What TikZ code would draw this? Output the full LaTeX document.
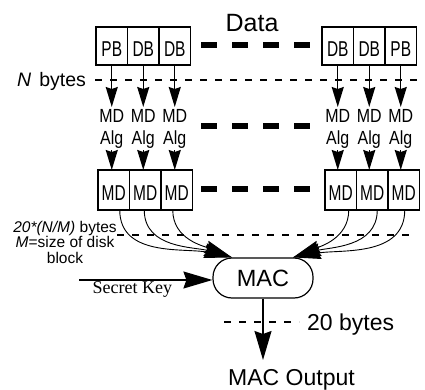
\documentclass[tikz,border=0pt]{standalone}
\usepackage{fontspec}
\setmainfont{Liberation Sans}
\newfontfamily\boxfont[FakeStretch=0.72]{Liberation Sans}
\newfontfamily\algfont[FakeStretch=0.84]{Liberation Sans}
\newfontfamily\keyfont{Liberation Serif}
\usetikzlibrary{arrows.meta,positioning}

\begin{document}
\begin{tikzpicture}[x=1pt,y=-1pt,
  cell/.style={draw, line width=1.4pt, outer sep=0pt, inner sep=0pt,
    minimum width=31.5pt, minimum height=38pt, text height=21pt, text depth=0pt,
    font=\boxfont\fontsize{21.5}{24}\selectfont},
  mdcell/.style={cell, minimum height=40pt},
  mdlabel/.style={align=center, inner sep=2pt, anchor=north,
    font=\algfont\fontsize{19}{22}\selectfont},
  downarrow/.style={line width=1.4pt, -{Stealth[length=20pt,width=12pt,inset=2pt]}},
  curvearrow/.style={line width=0.9pt, -{Stealth[length=28pt,width=13pt,inset=3pt]}},
  bigarrow/.style={line width=1.4pt, -{Stealth[length=29pt,width=17pt,inset=3pt]}},
  thindash/.style={line width=1.2pt, dash pattern=on 7pt off 8pt},
  gapdash/.style={line width=6pt, dash pattern=on 16pt off 15pt},
]
\useasboundingbox (0,0) rectangle (425,390);

% title
\node[anchor=base, font=\fontsize{25}{30}\selectfont] (title) at (252,32) {Data};

% data blocks
\node[cell] (tl1) at (111.75,46) {PB};
\node[cell,right=0pt of tl1] (tl2) {DB};
\node[cell,right=0pt of tl2] (tl3) {DB};
\node[cell] (tr1) at (337.75,46) {DB};
\node[cell,right=0pt of tr1] (tr2) {DB};
\node[cell,right=0pt of tr2] (tr3) {PB};

% ellipsis dashes between the block groups
\draw[gapdash] (201,45) -- (310,45);
\draw[gapdash] (201,126) -- (310,126);
\draw[gapdash] (201,189) -- (310,189);

% block size line
\node[anchor=base west, inner sep=0pt, font=\fontsize{19.5}{24}\selectfont] (nbytes) at (17,86.5) {\textit{N}\hspace{8pt}bytes};
\coordinate (n0) at (95,80);
\coordinate (n1) at (424,80);
\draw[thindash] (n0) -- (n1);

% digest algorithm labels
\node[mdlabel] (al1) at (111.75,107) {MD\\Alg};
\node[mdlabel] (al2) at (143.25,107) {MD\\Alg};
\node[mdlabel] (al3) at (174.75,107) {MD\\Alg};
\node[mdlabel] (ar1) at (337.75,107) {MD\\Alg};
\node[mdlabel] (ar2) at (369.25,107) {MD\\Alg};
\node[mdlabel] (ar3) at (400.75,107) {MD\\Alg};

% digests
\node[mdcell] (ml1) at (113.75,190) {MD};
\node[mdcell,right=0pt of ml1] (ml2) {MD};
\node[mdcell,right=0pt of ml2] (ml3) {MD};
\node[mdcell] (mr1) at (340.75,190) {MD};
\node[mdcell,right=0pt of mr1] (mr2) {MD};
\node[mdcell,right=0pt of mr2] (mr3) {MD};

% block -> algorithm -> digest
\foreach \t/\a/\m in {tl1/al1/ml1, tl2/al2/ml2, tl3/al3/ml3, tr1/ar1/mr1, tr2/ar2/mr2, tr3/ar3/mr3}{
  \draw[downarrow] (\t.south) -- (\a.north);
  \draw[downarrow] (\a.south) -- (\a.south |- \m.north);
}

% digest size line and note
\node[align=center, anchor=north, inner sep=0pt, font=\fontsize{15.5}{15.5}\selectfont] (note) at (65,221)
  {\textit{20*(N/M)} bytes\\\textit{M}=size of disk\\block};
\coordinate (d0) at (117,235);
\coordinate (d1) at (412,235);
\draw[thindash] (d0) -- (d1);

% MAC
\node[draw, line width=1.2pt, rounded corners=19pt, minimum width=100pt, minimum height=40pt,
  font=\fontsize{23.5}{28}\selectfont] (mac) at (263,278) {MAC};
\coordinate (inL) at ([xshift=-31pt]mac.north);
\coordinate (inR) at ([xshift=30pt]mac.north);

\draw[curvearrow] ([xshift=6pt]ml1.south) to[out=-90,in=168] (inL);
\draw[curvearrow] ([xshift=-1pt]ml2.south) to[out=-90,in=164] (inL);
\draw[curvearrow] ([xshift=-4pt]ml3.south) to[out=-90,in=158] (inL);
\draw[curvearrow] ([xshift=8pt]mr1.south) to[out=-90,in=22] (inR);
\draw[curvearrow] ([xshift=5pt]mr2.south) to[out=-90,in=16] (inR);
\draw[curvearrow] ([xshift=1pt]mr3.south) to[out=-90,in=10] (inR);

% secret key input
\coordinate (keystart) at (79,280);
\draw[bigarrow] (keystart) -- node[pos=0.4, below, inner sep=1pt, font=\keyfont\fontsize{18}{22}\selectfont] (keylbl) {Secret Key} (keystart -| mac.west);

% output
\coordinate (outtip) at (263,360);
\draw[bigarrow] (mac.south) -- (outtip);
\coordinate (t0) at (224,322);
\coordinate (t1) at (299,322);
\draw[thindash] (t0) -- (t1);
\node[anchor=base west, inner sep=0pt, font=\fontsize{23}{28}\selectfont] (twenty) at (307,330.3) {20 bytes};
\node[anchor=base, font=\fontsize{23}{28}\selectfont] (outlbl) at (291.5,385) {MAC Output};
\end{tikzpicture}
\end{document}
